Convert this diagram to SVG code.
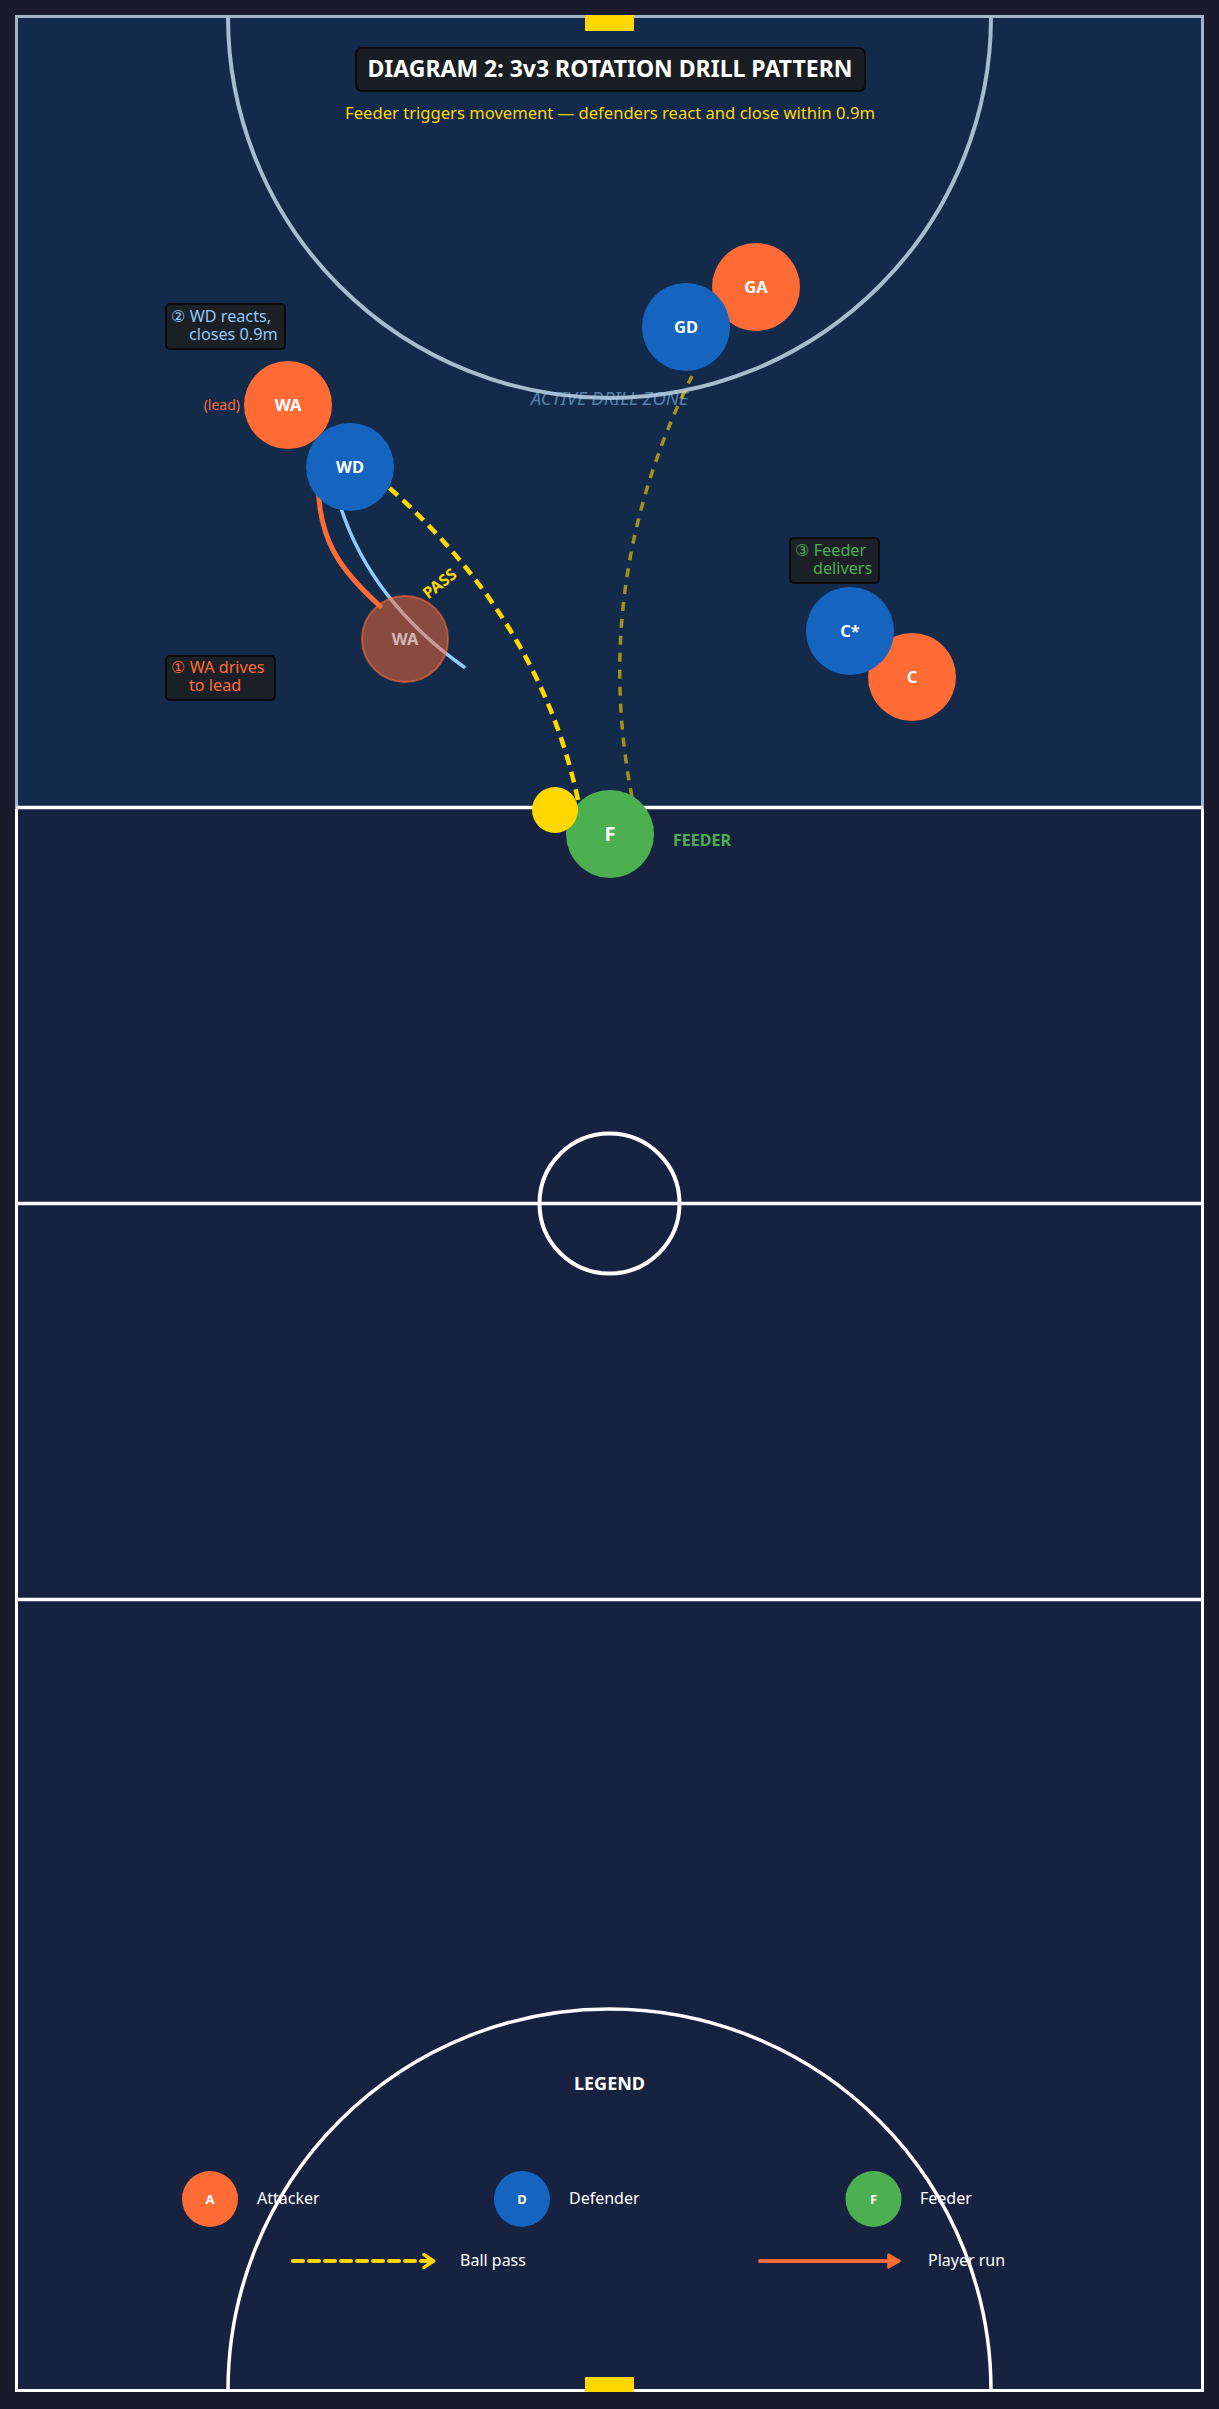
<svg xmlns="http://www.w3.org/2000/svg" width="1219" height="2409" viewBox="0 0 1219 2409">
<style>
text{font-family:"Noto Sans","Open Sans","DejaVu Sans",sans-serif}
.court{fill:none;stroke:#ffffff;stroke-width:3.5}
.node circle{stroke:none}
.nl{fill:#ffffff;font-weight:bold;font-size:16.5px;text-anchor:middle}
.att{fill:#FF6B35}
.def{fill:#1565C0}
.fed{fill:#4CAF50}
.box{fill:#1b1f26;stroke:#0a0a0a;stroke-width:2}
.lt{font-size:16.2px}
.leg{fill:#ffffff;font-size:16px}
</style>
<defs>
<marker id="chev" viewBox="0 0 10 10" refX="6" refY="5" markerWidth="4" markerHeight="4" orient="auto" markerUnits="strokeWidth">
<path d="M1 1 L7 5 L1 9" fill="none" stroke="#FFD700" stroke-width="2.2" stroke-linecap="round" stroke-linejoin="round"/>
</marker>
<marker id="tri" viewBox="0 0 10 10" refX="7" refY="5" markerWidth="4" markerHeight="4" orient="auto" markerUnits="strokeWidth">
<path d="M1 1 L8 5 L1 9 Z" fill="#FF6B35" stroke="#FF6B35" stroke-width="1.5" stroke-linejoin="round"/>
</marker>
</defs>
<rect x="0" y="0" width="1219" height="2409" fill="#1a1a2e"/>
<g id="court">
<rect x="16.5" y="16.5" width="1186" height="2374" fill="#172240" stroke="#ffffff" stroke-width="3"/>
<rect x="16.5" y="16.5" width="1186" height="791" fill="#132a4a" stroke="#a3b5cb" stroke-width="3"/>
<line class="court" x1="16.5" y1="807.5" x2="1202.5" y2="807.5"/>
<line class="court" x1="16.5" y1="1203.5" x2="1202.5" y2="1203.5"/>
<line class="court" x1="16.5" y1="1599.5" x2="1202.5" y2="1599.5"/>
<circle class="court" cx="609.5" cy="1203.5" r="70" style="stroke-width:4"/>
<path d="M228 16.5 A381.5 381.5 0 0 0 991 16.5" fill="none" stroke="#a8bccf" stroke-width="4"/>
<path class="court" d="M228 2390.5 A381.5 381.5 0 0 1 991 2390.5"/>
<rect x="585" y="15" width="49" height="16" fill="#FFD700"/>
<rect x="585" y="2377" width="49" height="15" fill="#FFD700"/>
<text x="609.5" y="405" font-size="18.5" font-style="italic" fill="#90CAF9" fill-opacity="0.55" text-anchor="middle">ACTIVE DRILL ZONE</text>
</g>
<g id="title">
<rect x="356" y="48" width="509" height="43" rx="6" fill="#1a1d22" stroke="#0b0b0b" stroke-width="2"/>
<text x="610" y="77" font-size="23" font-weight="bold" fill="#ffffff" text-anchor="middle">DIAGRAM 2: 3v3 ROTATION DRILL PATTERN</text>
<text x="610" y="119" font-size="16.6" fill="#FFD700" text-anchor="middle">Feeder triggers movement — defenders react and close within 0.9m</text>
</g>
<g id="connectors">
<path d="M380 606 C340 570 318 540 318 480" fill="none" stroke="#FF6B35" stroke-width="5" stroke-linecap="round"/>
<path d="M340 505 Q370 600 464 667" fill="none" stroke="#90CAF9" stroke-width="3.5" stroke-linecap="round"/>
<path d="M578 800 Q540 620 385 484" fill="none" stroke="#FFD700" stroke-width="4.5" stroke-dasharray="11 7"/>
<path d="M632 797 Q590 580 692 376" fill="none" stroke="#FFD700" stroke-opacity="0.6" stroke-width="3.5" stroke-dasharray="9 8"/>
<text transform="translate(440,584) rotate(-38)" y="5" font-size="16" font-weight="bold" fill="#FFD700" text-anchor="middle">PASS</text>
</g>
<g id="node-wa-ghost" class="node">
<circle cx="405" cy="639" r="43" fill="#FF6B35" fill-opacity="0.5" style="stroke:#FF6B35;stroke-opacity:0.6;stroke-width:2"/>
<text class="nl" x="405" y="645" fill-opacity="0.8" style="fill:#e6d6d6">WA</text>
</g>
<g id="node-wa" class="node">
<circle class="att" cx="288" cy="405" r="44"/>
<text class="nl" x="288" y="411">WA</text>
<text x="240" y="410" font-size="14" fill="#FF6B35" text-anchor="end">(lead)</text>
</g>
<g id="node-wd" class="node">
<circle class="def" cx="350" cy="467" r="44"/>
<text class="nl" x="350" y="473">WD</text>
</g>
<g id="node-ga" class="node">
<circle class="att" cx="756" cy="287" r="44"/>
<text class="nl" x="756" y="293">GA</text>
</g>
<g id="node-gd" class="node">
<circle class="def" cx="686" cy="327" r="44"/>
<text class="nl" x="686" y="333">GD</text>
</g>
<g id="node-c" class="node">
<circle class="att" cx="912" cy="677" r="44"/>
<text class="nl" x="912" y="683">C</text>
</g>
<g id="node-cstar" class="node">
<circle class="def" cx="850" cy="631" r="44"/>
<text class="nl" x="850" y="637">C*</text>
</g>
<g id="node-f" class="node">
<circle class="fed" cx="610" cy="834" r="44"/>
<text class="nl" x="610" y="841" style="font-size:20px">F</text>
<text x="673" y="846" font-size="16" font-weight="bold" fill="#4CAF50">FEEDER</text>
</g>
<g id="node-ball" class="node">
<circle cx="555" cy="810" r="23" fill="#FFD700"/>
</g>
<g id="label-1">
<rect class="box" x="166" y="656" width="109" height="44" rx="4"/>
<text class="lt" fill="#FF6B35"><tspan x="171" y="673">① WA drives</tspan><tspan x="189" y="691">to lead</tspan></text>
</g>
<g id="label-2">
<rect class="box" x="166" y="304" width="119" height="45" rx="4"/>
<text class="lt" fill="#90CAF9"><tspan x="171" y="322">② WD reacts,</tspan><tspan x="189" y="340">closes 0.9m</tspan></text>
</g>
<g id="label-3">
<rect class="box" x="790" y="538" width="89" height="45" rx="4"/>
<text class="lt" fill="#4CAF50"><tspan x="795" y="556">③ Feeder</tspan><tspan x="813" y="574">delivers</tspan></text>
</g>
<g id="legend">
<text x="609.5" y="2090" font-size="18" font-weight="bold" fill="#ffffff" text-anchor="middle">LEGEND</text>
<circle class="att" cx="210" cy="2199" r="28"/>
<text x="210" y="2204" font-size="13" font-weight="bold" fill="#ffffff" text-anchor="middle">A</text>
<text class="leg" x="257" y="2204">Attacker</text>
<circle class="def" cx="522" cy="2199" r="28"/>
<text x="522" y="2204" font-size="13" font-weight="bold" fill="#ffffff" text-anchor="middle">D</text>
<text class="leg" x="569" y="2204">Defender</text>
<circle class="fed" cx="873.5" cy="2199" r="28"/>
<text x="873.5" y="2204" font-size="13" font-weight="bold" fill="#ffffff" text-anchor="middle">F</text>
<text class="leg" x="920" y="2204">Feeder</text>
<line x1="293" y1="2261" x2="432" y2="2261" stroke="#FFD700" stroke-width="4" stroke-dasharray="10 6" stroke-linecap="round" marker-end="url(#chev)"/>
<text class="leg" x="460" y="2266">Ball pass</text>
<line x1="760" y1="2261" x2="898" y2="2261" stroke="#FF6B35" stroke-width="4" stroke-linecap="round" marker-end="url(#tri)"/>
<text class="leg" x="928" y="2266">Player run</text>
</g>
</svg>
